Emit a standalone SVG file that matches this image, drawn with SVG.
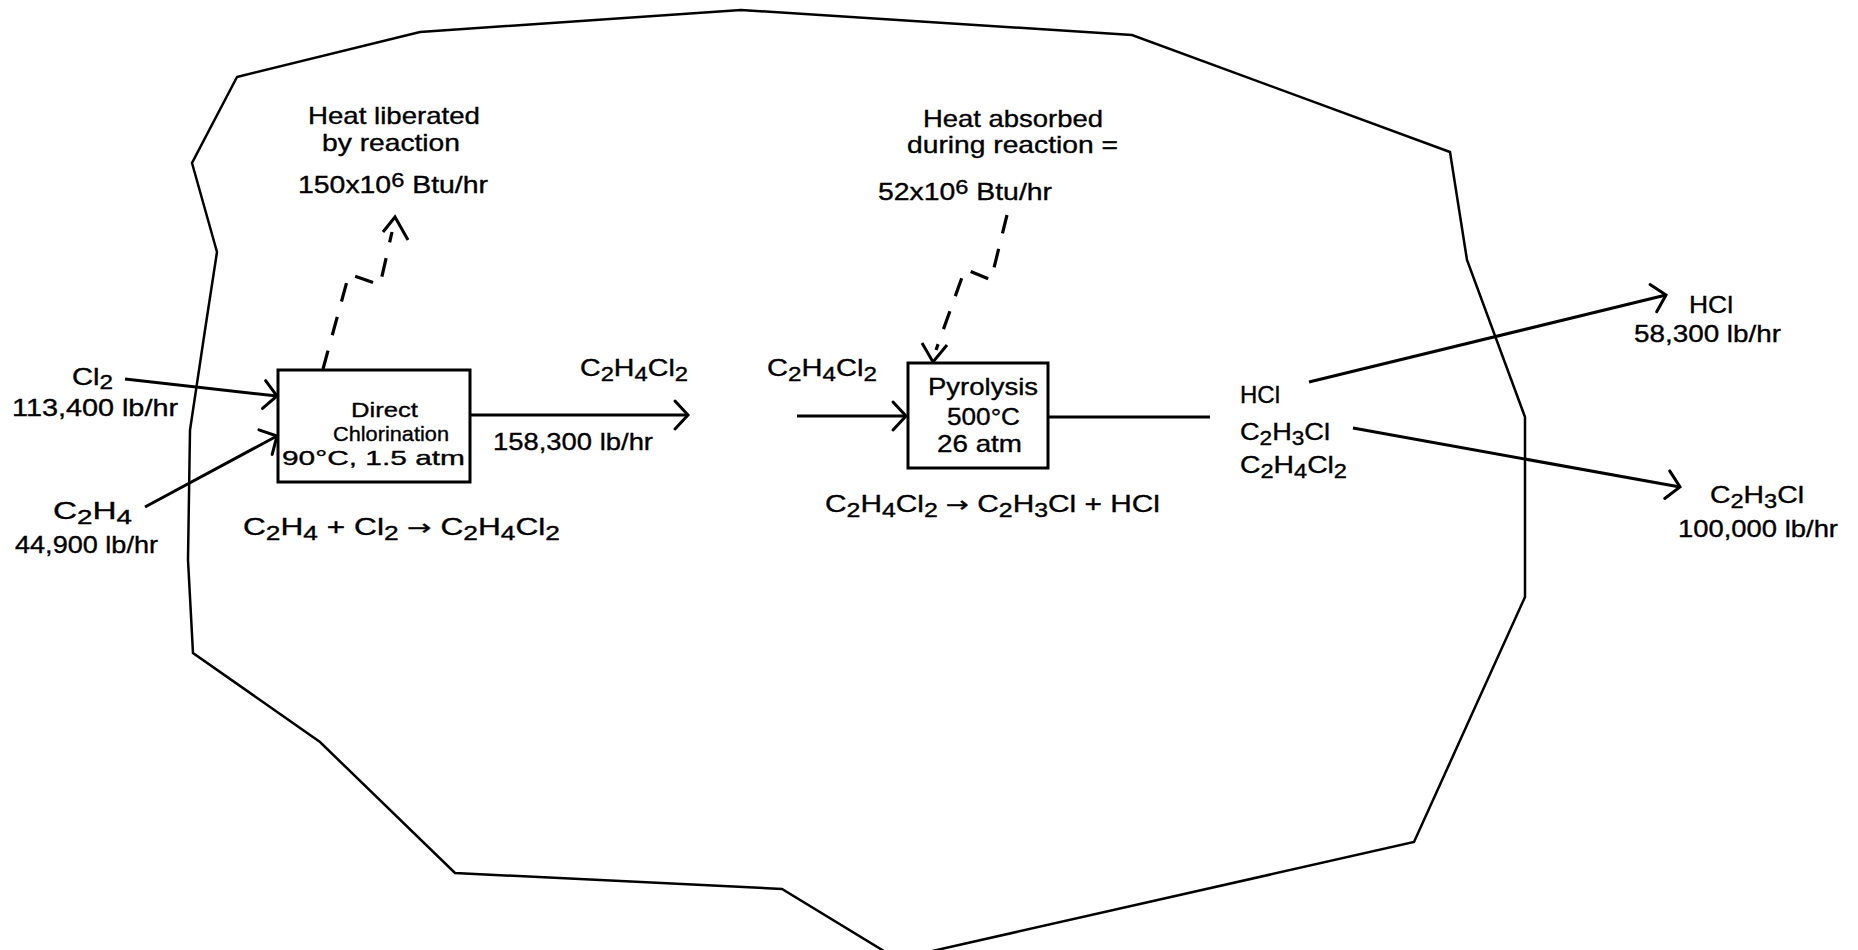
<svg xmlns="http://www.w3.org/2000/svg" width="1858" height="950" viewBox="0 0 1858 950">
<style>
  text { font-family: "Liberation Sans", "DejaVu Sans", Arial, sans-serif; font-size: 24px; fill: #000; stroke: #000; stroke-width: 0.35; }
  .sub { font-size: 20px; }
  .sup { font-size: 20px; }
  .inbox { font-size: 21px; }
  .arrowglyph { font-family: "DejaVu Sans", "Liberation Sans", sans-serif; font-size: 22px; }
  .boundary { fill: none; stroke: #000; stroke-width: 2.5; stroke-linejoin: miter; }
  .box { fill: #fff; stroke: #000; stroke-width: 3; }
  .flow { fill: none; stroke: #000; stroke-width: 3; }
  .heat { fill: none; stroke: #000; stroke-width: 3.2; stroke-dasharray: 19 16; }
</style>
<defs>
  <marker id="arr" markerUnits="userSpaceOnUse" markerWidth="40" markerHeight="40" refX="0" refY="0" orient="auto" viewBox="-20 -20 40 40" overflow="visible">
    <path d="M-13,-14 L0,0 L-13,14" fill="none" stroke="#000" stroke-width="3" stroke-linecap="round" stroke-linejoin="miter"/>
  </marker>
</defs>
<rect width="1858" height="950" fill="#fff"/>

<g id="system-boundary">
  <polygon class="boundary" points="237,77 420,32 741,10 1132,35 1450,152 1467,260 1525,417 1525,597 1414,842 897,959 782,889 455,873 320,742 193,653 188,560 190,430 205,330 217,252 192,163"/>
</g>

<g id="connectors">
  <line class="flow" x1="125" y1="379" x2="277" y2="396" marker-end="url(#arr)"/>
  <line class="flow" x1="145" y1="507" x2="277" y2="436" marker-end="url(#arr)"/>
  <line class="flow" x1="470" y1="415" x2="688" y2="415" marker-end="url(#arr)"/>
  <line class="flow" x1="797" y1="416" x2="906" y2="416" marker-end="url(#arr)"/>
  <line class="flow" x1="1048" y1="417" x2="1210" y2="417"/>
  <line class="flow" x1="1309" y1="382" x2="1666" y2="295" marker-end="url(#arr)"/>
  <line class="flow" x1="1353" y1="428" x2="1680" y2="487" marker-end="url(#arr)"/>
  <path class="heat" d="M323,369 L349,274 L380,285 L392,232" />
  <path d="M383,232 L395,217 L408,240" fill="none" stroke="#000" stroke-width="3"/>
  <path class="heat" d="M1007,215 L991,280 L965,269 L936,350" />
  <path d="M922,343 L933,362 L947,345" fill="none" stroke="#000" stroke-width="3"/>
</g>

<g id="feed-cl2">
  <text x="72" y="385" textLength="41" lengthAdjust="spacingAndGlyphs">Cl<tspan class="sub" dy="4">2</tspan></text>
  <text x="12" y="416" textLength="166" lengthAdjust="spacingAndGlyphs">113,400 lb/hr</text>
</g>
<g id="feed-c2h4">
  <text x="53" y="519" textLength="79" lengthAdjust="spacingAndGlyphs">C<tspan class="sub" dy="5">2</tspan><tspan dy="-5">H</tspan><tspan class="sub" dy="5">4</tspan></text>
  <text x="15" y="553" textLength="143" lengthAdjust="spacingAndGlyphs">44,900 lb/hr</text>
</g>

<g id="direct-chlorination">
  <rect class="box" x="278" y="370" width="192" height="112"/>
  <text class="inbox" x="351" y="417" textLength="67" lengthAdjust="spacingAndGlyphs">Direct</text>
  <text class="inbox" x="333" y="441" textLength="116" lengthAdjust="spacingAndGlyphs">Chlorination</text>
  <text class="inbox" x="282" y="465" textLength="183" lengthAdjust="spacingAndGlyphs">90°C, 1.5 atm</text>
  <text x="243" y="535" textLength="317" lengthAdjust="spacingAndGlyphs">C<tspan class="sub" dy="5">2</tspan><tspan dy="-5">H</tspan><tspan class="sub" dy="5">4</tspan><tspan dy="-5"> + Cl</tspan><tspan class="sub" dy="5">2</tspan><tspan dy="-5">  </tspan><tspan class="arrowglyph">→</tspan><tspan> C</tspan><tspan class="sub" dy="5">2</tspan><tspan dy="-5">H</tspan><tspan class="sub" dy="5">4</tspan><tspan dy="-5">Cl</tspan><tspan class="sub" dy="5">2</tspan></text>
</g>

<g id="heat-liberated">
  <text x="308" y="124" textLength="172" lengthAdjust="spacingAndGlyphs">Heat liberated</text>
  <text x="322" y="151" textLength="138" lengthAdjust="spacingAndGlyphs">by reaction</text>
  <text x="298" y="193" textLength="190" lengthAdjust="spacingAndGlyphs">150x10<tspan class="sup" dy="-6">6</tspan><tspan dy="6"> Btu/hr</tspan></text>
</g>

<g id="edc-stream">
  <text x="580" y="376" textLength="108" lengthAdjust="spacingAndGlyphs">C<tspan class="sub" dy="5">2</tspan><tspan dy="-5">H</tspan><tspan class="sub" dy="5">4</tspan><tspan dy="-5">Cl</tspan><tspan class="sub" dy="5">2</tspan></text>
  <text x="493" y="450" textLength="160" lengthAdjust="spacingAndGlyphs">158,300 lb/hr</text>
  <text x="767" y="376" textLength="110" lengthAdjust="spacingAndGlyphs">C<tspan class="sub" dy="5">2</tspan><tspan dy="-5">H</tspan><tspan class="sub" dy="5">4</tspan><tspan dy="-5">Cl</tspan><tspan class="sub" dy="5">2</tspan></text>
</g>

<g id="heat-absorbed">
  <text x="923" y="127" textLength="180" lengthAdjust="spacingAndGlyphs">Heat absorbed</text>
  <text x="907" y="153" textLength="211" lengthAdjust="spacingAndGlyphs">during reaction =</text>
  <text x="878" y="200" textLength="174" lengthAdjust="spacingAndGlyphs">52x10<tspan class="sup" dy="-6">6</tspan><tspan dy="6"> Btu/hr</tspan></text>
</g>

<g id="pyrolysis">
  <rect class="box" x="908" y="363" width="140" height="105"/>
  <text x="928" y="395" textLength="110" lengthAdjust="spacingAndGlyphs">Pyrolysis</text>
  <text x="947" y="425" textLength="73" lengthAdjust="spacingAndGlyphs">500°C</text>
  <text x="937" y="452" textLength="85" lengthAdjust="spacingAndGlyphs">26 atm</text>
  <text x="825" y="512" textLength="335" lengthAdjust="spacingAndGlyphs">C<tspan class="sub" dy="5">2</tspan><tspan dy="-5">H</tspan><tspan class="sub" dy="5">4</tspan><tspan dy="-5">Cl</tspan><tspan class="sub" dy="5">2</tspan><tspan dy="-5"> </tspan><tspan class="arrowglyph">→</tspan><tspan> C</tspan><tspan class="sub" dy="5">2</tspan><tspan dy="-5">H</tspan><tspan class="sub" dy="5">3</tspan><tspan dy="-5">Cl + HCl</tspan></text>
</g>

<g id="pyrolysis-products">
  <text x="1240" y="403" textLength="40" lengthAdjust="spacingAndGlyphs">HCl</text>
  <text x="1240" y="440" textLength="90" lengthAdjust="spacingAndGlyphs">C<tspan class="sub" dy="5">2</tspan><tspan dy="-5">H</tspan><tspan class="sub" dy="5">3</tspan><tspan dy="-5">Cl</tspan></text>
  <text x="1240" y="473" textLength="107" lengthAdjust="spacingAndGlyphs">C<tspan class="sub" dy="5">2</tspan><tspan dy="-5">H</tspan><tspan class="sub" dy="5">4</tspan><tspan dy="-5">Cl</tspan><tspan class="sub" dy="5">2</tspan></text>
</g>

<g id="product-hcl">
  <text x="1689" y="313" textLength="44" lengthAdjust="spacingAndGlyphs">HCl</text>
  <text x="1634" y="342" textLength="147" lengthAdjust="spacingAndGlyphs">58,300 lb/hr</text>
</g>

<g id="product-vcm">
  <text x="1710" y="503" textLength="94" lengthAdjust="spacingAndGlyphs">C<tspan class="sub" dy="5">2</tspan><tspan dy="-5">H</tspan><tspan class="sub" dy="5">3</tspan><tspan dy="-5">Cl</tspan></text>
  <text x="1678" y="537" textLength="160" lengthAdjust="spacingAndGlyphs">100,000 lb/hr</text>
</g>
</svg>
